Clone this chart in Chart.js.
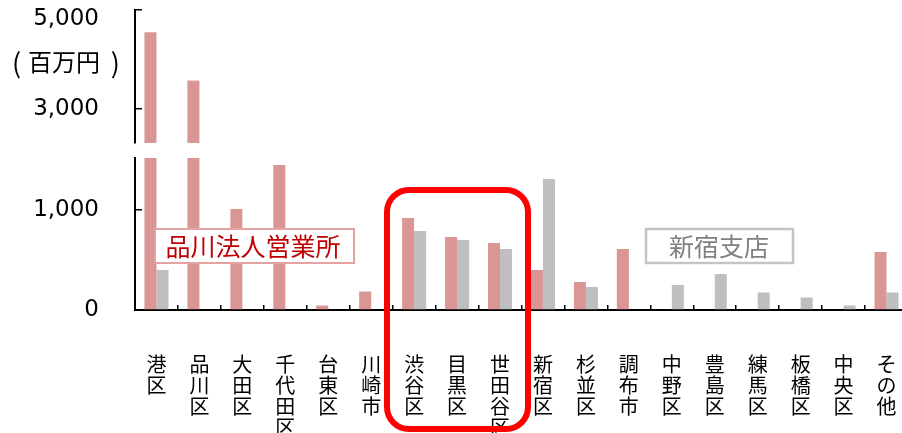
<!DOCTYPE html>
<html>
<head>
<meta charset="utf-8">
<script src="https://cdn.jsdelivr.net/npm/chart.js@4/dist/chart.umd.min.js"></script>
<style>
    html, body { margin: 0; padding: 0; overflow: hidden; background: #fff; }
</style>
</head>
<body>
<canvas id="sales" width="910" height="433"></canvas>
<script>
// Categories (vertical labels, one character per line)
const areaLabels = [
    ['港', '区'], ['品', '川', '区'], ['大', '田', '区'], ['千', '代', '田', '区'],
    ['台', '東', '区'], ['川', '崎', '市'], ['渋', '谷', '区'], ['目', '黒', '区'],
    ['世', '田', '谷', '区'], ['新', '宿', '区'], ['杉', '並', '区'], ['調', '布', '市'],
    ['中', '野', '区'], ['豊', '島', '区'], ['練', '馬', '区'], ['板', '橋', '区'],
    ['中', '央', '区'], ['そ', 'の', '他']
];

// Values in millions of yen
const shinagawaSales = [4550, 3570, 1010, 1450, 45, 185, 920, 730, 670, 400, 280, 610, 0, 0, 0, 0, 0, 580];
const shinjukuSales = [400, 0, 0, 0, 0, 0, 790, 700, 610, 1310, 230, 0, 250, 360, 175, 125, 45, 175];

// Broken axis: lower part and upper part
const lowerTicks = [0, 1000];
const upperTicks = [3000, 5000];
const lowerMax = 1520;
const upperMin = 2306;
const upperMax = 5000;

Chart.defaults.font.family = "'Noto Sans CJK JP', 'DejaVu Sans', sans-serif";
Chart.defaults.color = '#000';

// Text boxes and the highlight frame
const notesPlugin = {
    id: 'notes',
    afterDatasetsDraw(chart) {
        const ctx = chart.ctx;
        ctx.save();
        ctx.textAlign = 'center';
        ctx.textBaseline = 'middle';
        ctx.font = "25px 'Noto Sans CJK JP'";

        ctx.fillStyle = '#fff';
        ctx.fillRect(155, 229, 199, 34);
        ctx.lineWidth = 2;
        ctx.strokeStyle = '#e3a3a2';
        ctx.strokeRect(155, 229, 199, 34);
        ctx.fillStyle = '#c00000';
        ctx.fillText('品川法人営業所', 253, 246);

        ctx.fillStyle = '#fff';
        ctx.fillRect(646, 229, 147, 34);
        ctx.lineWidth = 2.5;
        ctx.strokeStyle = '#c4c4c4';
        ctx.strokeRect(646, 229, 147, 34);
        ctx.fillStyle = '#808080';
        ctx.fillText('新宿支店', 719, 246);
        ctx.restore();
    },
    afterDraw(chart) {
        const ctx = chart.ctx;
        const yTop = chart.scales.yTop;
        ctx.save();
        ctx.fillStyle = '#000';
        ctx.textBaseline = 'middle';
        const unitY = yTop.getPixelForValue(4000) + 3;
        ctx.font = "24px 'Noto Sans CJK JP'";
        ctx.textAlign = 'center';
        ctx.fillText('百万円', 64, unitY);
        ctx.font = "27px 'Noto Sans CJK JP'";
        ctx.textAlign = 'left';
        ctx.fillText('(', 12, unitY);
        ctx.textAlign = 'right';
        ctx.fillText(')', 120, unitY);

        ctx.strokeStyle = '#ff0000';
        ctx.lineWidth = 6;
        ctx.beginPath();
        ctx.roundRect(387, 190, 141, 239, 22);
        ctx.stroke();
        ctx.restore();
    }
};

const tickFont = { family: "'DejaVu Sans', sans-serif", size: 23, lineHeight: '19px' };

// fixed axis sizes, and no extra padding from the tick labels
const fitY = scale => {
    scale.width = 135;
    scale.paddingTop = 0;
    scale.paddingBottom = 0;
};

new Chart(document.getElementById('sales').getContext('2d'), {
    type: 'bar',
    data: {
        labels: areaLabels,
        datasets: [
            {
                label: '品川法人営業所',
                data: shinagawaSales.map(v => Math.min(v, lowerMax)),
                yAxisID: 'y',
                stack: 'shinagawa',
                backgroundColor: '#d99694'
            },
            {
                label: '新宿支店',
                data: shinjukuSales,
                yAxisID: 'y',
                stack: 'shinjuku',
                backgroundColor: '#bfbfbf'
            },
            {
                label: '品川法人営業所 (上段)',
                data: shinagawaSales.map(v => v > upperMin ? v : null),
                yAxisID: 'yTop',
                stack: 'shinagawa',
                base: upperMin,
                backgroundColor: '#d99694'
            }
        ]
    },
    options: {
        responsive: false,
        animation: false,
        categoryPercentage: 0.56,
        barPercentage: 1,
        layout: { padding: { top: 10, right: 2, left: 0, bottom: 0 } },
        plugins: {
            legend: { display: false },
            tooltip: { enabled: false }
        },
        scales: {
            x: {
                offset: true,
                grid: {
                    offset: true,
                    drawOnChartArea: false,
                    tickLength: -5,
                    color: '#000',
                    lineWidth: 1.5
                },
                border: { color: '#000', width: 2 },
                ticks: {
                    autoSkip: false,
                    maxRotation: 0,
                    padding: 49,
                    font: { size: 20, lineHeight: '21px' }
                },
                afterFit: scale => {
                    scale.height = 123;
                    scale.paddingLeft = 0;
                    scale.paddingRight = 0;
                }
            },
            // left axes are stacked in reverse order: the last one ends up on top
            y: {
                type: 'linear',
                position: 'left',
                stack: 'axis',
                stackWeight: 152,
                min: 0,
                max: lowerMax,
                afterBuildTicks: scale => { scale.ticks = lowerTicks.map(v => ({ value: v })); },
                grid: { drawOnChartArea: false, tickLength: -7, color: '#000', lineWidth: 1.5 },
                border: { color: '#000', width: 2 },
                ticks: {
                    padding: 43,
                    font: tickFont,
                    callback: v => v.toLocaleString('en-US')
                },
                afterFit: fitY
            },
            yGap: {
                type: 'linear',
                position: 'left',
                stack: 'axis',
                stackWeight: 15,
                grid: { display: false },
                border: { display: false },
                ticks: { display: false },
                afterFit: fitY
            },
            yTop: {
                type: 'linear',
                position: 'left',
                stack: 'axis',
                stackWeight: 133,
                min: upperMin,
                max: upperMax,
                afterBuildTicks: scale => { scale.ticks = upperTicks.map(v => ({ value: v })); },
                grid: { drawOnChartArea: false, tickLength: -7, color: '#000', lineWidth: 1.5 },
                border: { color: '#000', width: 2 },
                ticks: {
                    padding: 43,
                    font: tickFont,
                    callback: v => v === upperMax ? ['', v.toLocaleString('en-US')] : v.toLocaleString('en-US')
                },
                afterFit: fitY
            }
        }
    },
    plugins: [notesPlugin]
});
</script>
</body>
</html>
